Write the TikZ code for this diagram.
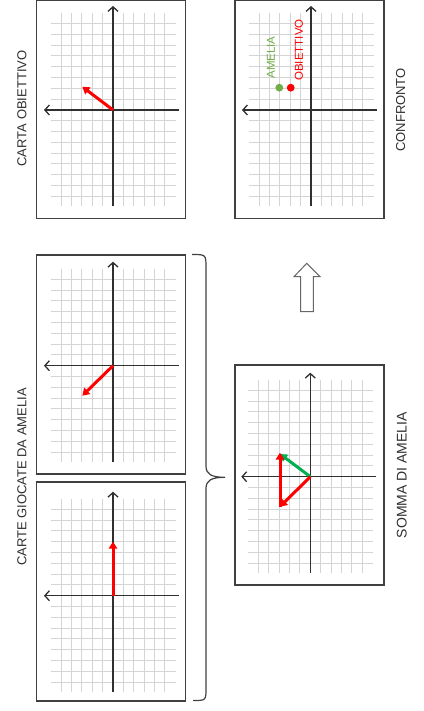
\documentclass[tikz,border=0pt]{standalone}
\usepackage{fontspec}
\setmainfont{Liberation Sans}
\usetikzlibrary{arrows.meta}
\definecolor{frameC}{HTML}{404040}
\definecolor{gridC}{HTML}{D4D4D4}
\definecolor{axisC}{HTML}{303030}
\definecolor{vecR}{HTML}{FF0000}
\definecolor{vecG}{HTML}{00B050}
\definecolor{dotG}{HTML}{70AD47}
\definecolor{txtC}{HTML}{303030}
\tikzset{
  cardbox/.style={draw=frameC, line width=1.3pt, minimum width=149pt, minimum height=219pt, inner sep=0pt},
  gridline/.style={draw=gridC, line width=1pt},
  axisline/.style={draw=axisC, line width=1.3pt, -{Straight Barb[length=4.5pt,width=10pt]}},
  redvec/.style={draw=vecR, line width=3pt, -{Triangle[length=7pt,width=8.5pt]}},
  greenvec/.style={draw=vecG, line width=3pt, -{Triangle[length=7pt,width=8.5pt]}},
  biglabel/.style={text=txtC, font=\fontsize{13pt}{15pt}\selectfont, rotate=90, inner sep=0pt},
  smalllabel/.style={font=\fontsize{11.5pt}{13pt}\selectfont, rotate=90, inner sep=0pt},
  dotmark/.style={circle, inner sep=0pt, minimum size=7.8pt},
}
\newcommand{\cardgrid}[3]{% name, origin x, origin y
  \coordinate (#1) at (#2,#3);
  \begin{scope}[shift={(#2,#3)}]
    \foreach \k in {-5,...,-1,1,2,...,5} \draw[gridline] (\k*10.35,-97) -- (\k*10.35,96);
    \foreach \k in {-8,...,-1,1,2,...,8} \draw[gridline] (-62.3,\k*10.8) -- (63,\k*10.8);
    \draw[axisline] (0,96) -- (0,-104);
    \draw[axisline] (66,0) -- (-69,0);
  \end{scope}}
\begin{document}
\begin{tikzpicture}[x=1pt,y=-1pt]
\useasboundingbox (0,0) rectangle (423,711);
% card frames
\node[cardbox, minimum height=218pt] (cobj) at (111.2,109.5) {};
\node[cardbox, minimum height=218pt] (cconf) at (309.5,109.5) {};
\node[cardbox] (ca) at (111.2,364.4) {};
\node[cardbox] (cb) at (111.2,591.4) {};
\node[cardbox, minimum height=220pt] (csum) at (309.4,474.9) {};
% grids
\cardgrid{o1}{113}{110}
\cardgrid{o2}{311}{110}
\cardgrid{o3}{113}{365.7}
\cardgrid{o4}{113}{595.7}
\cardgrid{o5}{310.3}{476.7}
% vectors
\coordinate (t1) at (82.3,86.7);
\draw[redvec] (o1) -- (t1);
\coordinate (t3) at (82.3,395.7);
\draw[redvec] (o3) -- (t3);
\coordinate (t4) at (113,541.7);
\draw[redvec] (o4) -- (t4);
\coordinate (s1) at (280,506.7);
\coordinate (s2) at (280,452.7);
\coordinate (g2) at (280,454);
\draw[greenvec] (o5) -- (g2);
\draw[redvec] (o5) -- (s1);
\draw[redvec] (s1) -- (s2);
% comparison dots
\node[dotmark, fill=dotG] (dA) at (279.3,87.7) {};
\node[dotmark, fill=vecR] (dO) at (290.7,87.7) {};
\node[smalllabel, text=dotG] (lA) at (271,57.5) {AMELIA};
\node[smalllabel, text=vecR] (lO) at (299,50) {OBIETTIVO};
% labels
\node[biglabel] (lobj) at (22,108.5) {CARTA OBIETTIVO};
\node[biglabel] (lconf) at (400.7,110) {CONFRONTO};
\node[biglabel] (lcarte) at (22,477) {CARTE GIOCATE DA AMELIA};
\node[biglabel, font=\fontsize{14pt}{16pt}\selectfont] (lsum) at (401.7,475) {SOMMA DI AMELIA};
% brace
\draw[frameC, line width=1.2pt]
  (192,254.5) .. controls (206,254.5) .. (206,268)
  -- (206,466) .. controls (206,474) and (211,477.3) .. (225,477.3)
  .. controls (211,477.3) and (206,480.5) .. (206,488.5)
  -- (206,688) .. controls (206,700.5) .. (193,700.5);
% hollow arrow
\draw[draw=frameC!80, fill=white, line width=1pt, line join=miter]
  (306.7,263.3) -- (320,276.7) -- (313.3,276.7) -- (313.3,311.7)
  -- (300.7,311.7) -- (300.7,276.7) -- (294,276.7) -- cycle;
\end{tikzpicture}
\end{document}
